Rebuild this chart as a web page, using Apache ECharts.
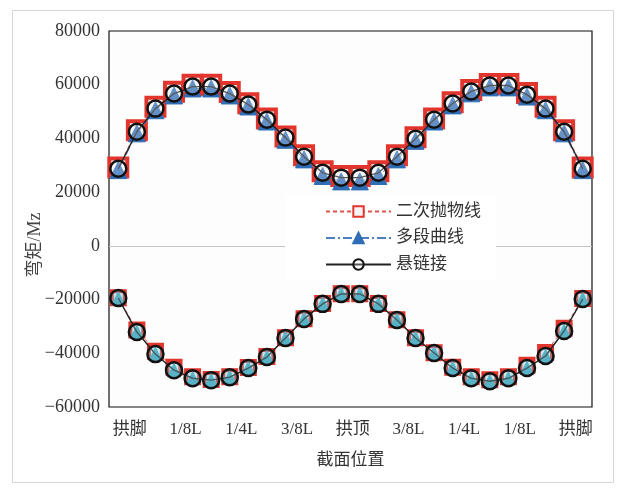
<!DOCTYPE html>
<html>
<head>
<meta charset="utf-8">
<script src="https://cdn.jsdelivr.net/npm/echarts@6/dist/echarts.min.js"></script>
<style>
  html, body { margin: 0; padding: 0; background: #ffffff; }
  #chart { width: 624px; height: 489px; }
</style>
</head>
<body>
<div id="chart"></div>
<script>
// Section numbers along the arch (26 computed sections, foot to foot)
const sections = ['1','2','3','4','5','6','7','8','9','10','11','12','13',
                  '14','15','16','17','18','19','20','21','22','23','24','25','26'];
// Labels shown every third section
const tickLabels = ['拱脚','1/8L','1/4L','3/8L','拱顶','3/8L','1/4L','1/8L','拱脚'];

const seriesNames = ['二次抛物线', '多段曲线', '悬链接'];

// Positive bending moment envelope
const parabolaMax = [29200, 43000, 51800, 57400, 60000, 60000, 57300, 53100, 47400, 40700, 33700, 27800, 26000,
                     26000, 27800, 33700, 40400, 47400, 53500, 58000, 60300, 60300, 56900, 51800, 43000, 29200];
const multiMax    = [28200, 41900, 50500, 56000, 58600, 58600, 56000, 51900, 46300, 39500, 32200, 26000, 24000,
                     24000, 26000, 32200, 39100, 46300, 52300, 56800, 59000, 59000, 55600, 50500, 41900, 28200];
const catenaryMax = [28700, 42500, 51100, 56700, 59300, 59300, 56700, 52600, 47000, 40300, 33200, 27200, 25400,
                     25400, 27200, 33200, 39900, 47000, 53000, 57500, 59700, 59700, 56300, 51100, 42500, 28700];

// Negative bending moment envelope
const parabolaMin = [-19300, -31300, -39200, -45200, -48700, -49800, -48700, -45300, -41200, -34200, -27100, -21500, -17800,
                     -17800, -21500, -27500, -34200, -39800, -45200, -48700, -49900, -48700, -44500, -39700, -30700, -19600];
const multiMin    = [-19500, -32100, -40300, -46300, -49300, -50000, -48900, -45500, -41400, -34300, -27200, -21600, -17900,
                     -17900, -21600, -27600, -34300, -39900, -45500, -49300, -50400, -49300, -45500, -41000, -31700, -19800];
const catenaryMin = [-19400, -32100, -40300, -46300, -49300, -50000, -48900, -45500, -41400, -34300, -27200, -21600, -17900,
                     -17900, -21600, -27600, -34300, -39900, -45500, -49300, -50400, -49300, -45500, -41000, -31700, -19800];

const yTicks = { min: -60000, max: 80000, step: 20000 };

const textFont = '"Liberation Serif", "Noto Sans CJK SC", serif';

function parabolaSeries(data, size, withZeroLine) {
  const s = {
    name: seriesNames[0], type: 'line', data: data, z: 2,
    showAllSymbol: true,
    symbol: 'rect', symbolSize: size,
    itemStyle: { color: '#f4f4f4', borderColor: '#e2352d', borderWidth: 4 },
    lineStyle: { color: '#e2524a', width: 1, type: [4, 3] }
  };
  if (withZeroLine) {
    s.markLine = {
      silent: true, symbol: 'none', z: 1,
      label: { show: false },
      lineStyle: { color: '#c4c4c4', type: 'solid', width: 1 },
      data: [{ yAxis: 0 }]
    };
  }
  return s;
}
function multiSeries(data, fill, size) {
  return {
    name: seriesNames[1], type: 'line', data: data, z: 3,
    showAllSymbol: true,
    symbol: 'triangle', symbolSize: size,
    itemStyle: { color: fill, borderColor: fill, borderWidth: 1 },
    lineStyle: { color: '#4a7fc0', width: 1, type: [9, 3, 2, 3] }
  };
}
function catenarySeries(data, fill) {
  return {
    name: seriesNames[2], type: 'line', data: data, z: 4,
    showAllSymbol: true,
    symbol: 'circle', symbolSize: 16,
    itemStyle: { color: fill, borderColor: '#111111', borderWidth: 2.5 },
    lineStyle: { color: '#222222', width: 1.4 }
  };
}

const chart = echarts.init(document.getElementById('chart'), null, { renderer: 'canvas' });
chart.setOption({
  animation: false,
  backgroundColor: '#ffffff',
  graphic: [{
    type: 'rect', z: -10, silent: true,
    shape: { x: 12.5, y: 10.5, width: 601, height: 472 },
    style: { fill: 'none', stroke: '#d6d6d6', lineWidth: 1 }
  }],
  grid: {
    left: 109, top: 31, right: 32, bottom: 82,
    show: true, backgroundColor: '#fdfdfd', borderColor: '#111111', borderWidth: 1.2
  },
  legend: {
    data: seriesNames,
    orient: 'vertical',
    left: 285, top: 195,
    backgroundColor: '#ffffff',
    padding: [8, 15, 8, 40],
    itemWidth: 65, itemHeight: 13, itemGap: 9.5,
    textStyle: { fontFamily: textFont, fontSize: 17, color: '#333333' },
    z: 10
  },
  xAxis: {
    type: 'category',
    data: sections,
    boundaryGap: true,
    axisLine: { show: false },
    axisTick: { show: false },
    splitLine: { show: false },
    axisLabel: {
      interval: 2, margin: 14,
      fontFamily: textFont, fontSize: 17, color: '#333333',
      padding: [0, 0, 0, 23],
      formatter: (v, i) => tickLabels[i / 3] || ''
    },
    name: '截面位置',
    nameLocation: 'middle', nameGap: 45, nameMoveOverlap: false,
    nameTextStyle: { fontFamily: textFont, fontSize: 17, color: '#333333' }
  },
  yAxis: {
    type: 'value',
    min: yTicks.min, max: yTicks.max, interval: yTicks.step,
    axisLine: { show: false },
    axisTick: { show: false },
    splitLine: { show: false },
    axisLabel: {
      margin: 9, fontFamily: textFont, fontSize: 18, color: '#333333',
      formatter: v => (v < 0 ? '\u2212' + Math.abs(v) : String(v))
    },
    name: '弯矩/Mz',
    nameLocation: 'middle', nameGap: 65, nameRotate: 90, nameMoveOverlap: false,
    nameTextStyle: { fontFamily: textFont, fontSize: 18, color: '#444444', padding: [0, 52, 0, 0] }
  },
  series: [
    parabolaSeries(parabolaMax, 18, true),
    multiSeries(multiMax, '#2f6db5', 17),
    catenarySeries(catenaryMax, 'rgba(255,255,255,0.25)'),
    parabolaSeries(parabolaMin, 13, false),
    multiSeries(multiMin, '#48a7bd', 13),
    catenarySeries(catenaryMin, 'rgba(120,200,215,0.35)')
  ]
});
</script>
</body>
</html>
